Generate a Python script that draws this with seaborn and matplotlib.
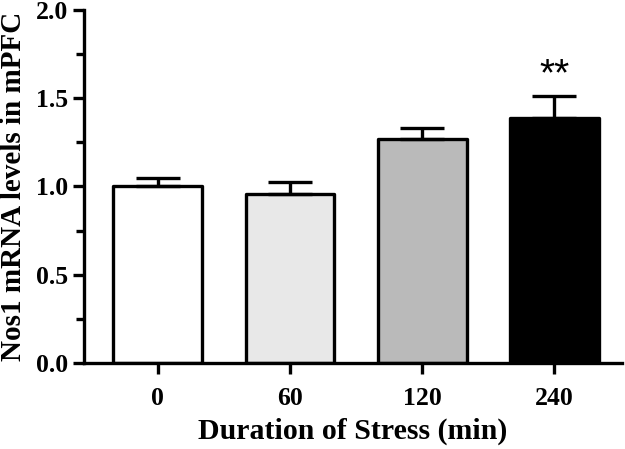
import numpy as np
import pandas as pd
import matplotlib
matplotlib.use("Agg")
import matplotlib.pyplot as plt
import seaborn as sns
from matplotlib.ticker import MultipleLocator, FormatStrFormatter

# Data
durations = ["0", "60", "120", "240"]
mrna_levels = [1.00, 0.96, 1.27, 1.39]
sem = [0.05, 0.065, 0.06, 0.12]
bar_colors = ["#ffffff", "#e8e8e8", "#bababa", "#000000"]
annotations = ["", "", "", "**"]

df = pd.DataFrame({"Duration": durations, "Level": mrna_levels})

sns.set_theme(style="ticks")
plt.rcParams["font.family"] = ["Liberation Serif", "DejaVu Serif"]
plt.rcParams["font.weight"] = "bold"
plt.rcParams["text.color"] = "black"
plt.rcParams["axes.labelcolor"] = "black"

fig = plt.figure(figsize=(6.25, 4.49), dpi=100)
ax = fig.add_axes([0.134, 0.1915, 0.861, 0.7865])

sns.barplot(data=df, x="Duration", y="Level", hue="Duration", palette=bar_colors,
            order=durations, hue_order=durations, legend=False, width=0.67,
            edgecolor="black", linewidth=2.4, saturation=1, ax=ax, errorbar=None)
for p in ax.patches:
    p.set_joinstyle("round")

xpos = np.arange(len(durations))
ax.errorbar(xpos, mrna_levels, yerr=[np.zeros(len(sem)), sem], fmt="none",
            ecolor="black", elinewidth=2.4, capsize=15.5, capthick=2.4, zorder=1)

# significance stars
for x, y, e, s in zip(xpos, mrna_levels, sem, annotations):
    if s:
        ax.text(x, y + e + 0.06, s, ha="center", va="baseline", fontsize=28,
                family="Liberation Sans", fontweight="normal", color="black")

ax.set_ylim(0, 2.0)
ax.set_xlim(-0.56, 3.51)
ax.yaxis.set_major_locator(MultipleLocator(0.5))
ax.yaxis.set_minor_locator(MultipleLocator(0.25))
ax.yaxis.set_major_formatter(FormatStrFormatter("%.1f"))

ax.set_xlabel("Duration of Stress (min)", fontsize=21.5, fontweight="bold", labelpad=6)
ax.set_ylabel("Nos1 mRNA levels in mPFC", fontsize=21, fontweight="bold", labelpad=6)

sns.despine(ax=ax)
for side in ["left", "bottom"]:
    ax.spines[side].set_linewidth(2.4)
    ax.spines[side].set_color("black")
ax.tick_params(axis="both", which="major", width=2.4, length=8, labelsize=18.5,
               color="black", labelcolor="black")
ax.tick_params(axis="x", which="major", pad=9)
ax.tick_params(axis="y", which="minor", width=2.4, length=6, color="black")
ax.tick_params(axis="x", which="minor", bottom=False)
for lbl in ax.get_xticklabels() + ax.get_yticklabels():
    lbl.set_fontweight("bold")

fig.savefig("out.png", dpi=100)
